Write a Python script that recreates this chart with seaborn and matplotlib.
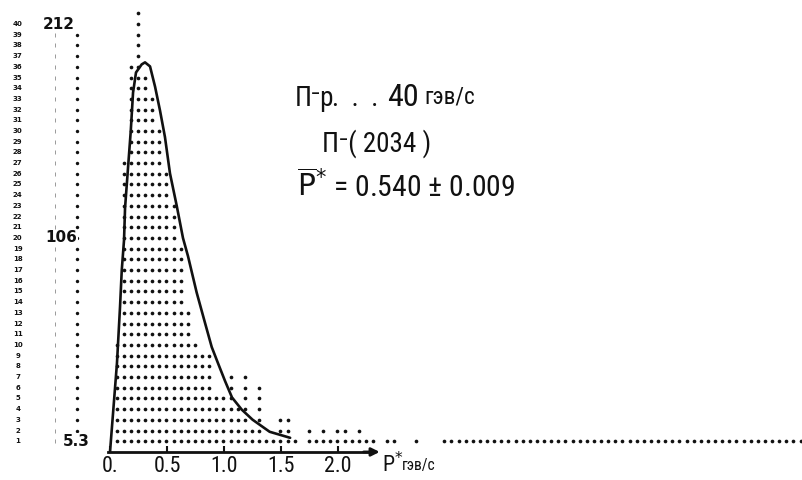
import numpy as np
import pandas as pd
import matplotlib
matplotlib.use("Agg")
import matplotlib.pyplot as plt
from matplotlib import font_manager
import seaborn as sns

# ---------------- data ----------------
ROW_UNIT = 5.3            # events represented by one printed dot
BIN_START = 0.057         # centre of the first printer column, GeV/c
BIN_WIDTH = 0.0625        # width of a printer column, GeV/c

# number of printed dots in each column (from left to right)
hist_rows = [
    10, 27, 36, 41, 35, 33, 30, 26, 23, 19,
    13, 10, 9, 9, 5, 5, 7, 4, 7, 2,
    6, 1, 1, 3, 3, 1, 0, 2, 1, 2,
    1, 2, 2, 1, 2, 1, 1, 0, 1, 1,
    0, 0, 1, 0, 0, 0, 1, 1, 1, 1,
    1, 1, 1, 1, 1, 1, 1, 1, 1, 1,
    1, 1, 1, 1, 1, 1, 1, 1, 1, 1,
    1, 1, 1, 1, 1, 1, 1, 1, 1, 1,
    1, 1, 1, 1, 1, 1, 1, 1, 1, 1,
    1, 1, 1, 1, 1, 1, 1,
]

# hand-drawn fitted curve (P*, events)
curve_p = [0.0, 0.061, 0.088, 0.103, 0.123, 0.132, 0.182, 0.202, 0.228, 0.278,
           0.307, 0.351, 0.395, 0.439, 0.482, 0.526, 0.585, 0.64, 0.684, 0.76,
           0.833, 0.892, 0.947, 1.01, 1.07, 1.155, 1.25, 1.40, 1.58]
curve_n = [0, 44, 72, 90, 105, 121, 159, 178, 188, 192,
           193, 191, 181, 169, 156, 138, 122, 106, 97, 79,
           64, 52, 44, 35, 27, 21, 16, 10, 7]

y_ticks = [5.3, 106, 212]
y_tick_labels = ["5.3", "106", "212"]
y_label_right = [-0.175, -0.29, -0.305]   # right edge of each hand-written label
x_ticks = [0.0, 0.5, 1.0, 1.5, 2.0]
x_tick_labels = ["0.", "0.5", "1.0", "1.5", "2.0"]
printer_rows = list(range(1, 41))

# ---------------- build the dot table ----------------
recs = []
for k, n in enumerate(hist_rows):
    p = BIN_START + BIN_WIDTH * k
    for j in range(1, n + 1):
        recs.append((p, j * ROW_UNIT))
dots = pd.DataFrame(recs, columns=["p", "n"])
curve = pd.DataFrame({"p": curve_p, "n": curve_n})

# ---------------- style ----------------
sns.set_style("white")
names = {f.name for f in font_manager.fontManager.ttflist}
if "Liberation Sans Narrow" in names:
    MAIN, SC = "Liberation Sans Narrow", 1.0
elif "Roboto Condensed" in names:
    MAIN, SC = "Roboto Condensed", 0.93
else:
    MAIN, SC = "Liberation Sans", 0.84
FAM = [MAIN, "DejaVu Sans"]
plt.rcParams["font.family"] = FAM
INK = "#111111"

fig = plt.figure(figsize=(8.02, 4.80), dpi=100)
ax = fig.add_axes([0, 0, 1, 1])
ax.set_xlim(-0.965, 6.07)
ax.set_ylim(-13.9, 223.9)

sns.scatterplot(data=dots, x="p", y="n", ax=ax, s=7, color=INK,
                linewidth=0, legend=False, zorder=2)
sns.lineplot(data=curve, x="p", y="n", ax=ax, color=INK, lw=1.9,
             sort=False, zorder=3)

# printer row scale on the left
row_y = [r * ROW_UNIT for r in printer_rows]
for r, yv in zip(printer_rows, row_y):
    ax.text(-0.81, yv, str(r), fontsize=5, fontweight="bold", color=INK,
            ha="center", va="center", family=["DejaVu Sans"])
ax.scatter([-0.29] * (len(row_y) - 2), row_y[1:-1], s=6, color=INK,
           linewidth=0)
ax.scatter([-0.48] * len(row_y), row_y, s=5, marker="|", color="#999999",
           linewidth=0.7)

# hand-written value labels of the vertical scale
for yv, lab, xr in zip(y_ticks, y_tick_labels, y_label_right):
    ax.text(xr, yv, lab, fontsize=11, fontweight="bold", color=INK,
            ha="right", va="center", family=["DejaVu Sans"],
            bbox=dict(facecolor="white", edgecolor="none", pad=0.5))

# axes
for side in ["top", "right", "left"]:
    ax.spines[side].set_visible(False)
ax.spines["bottom"].set_position(("data", 0))
ax.spines["bottom"].set_bounds(-0.02, 2.3)
ax.spines["bottom"].set_linewidth(2)
ax.spines["bottom"].set_color(INK)
ax.annotate("", xy=(2.39, 0), xytext=(2.2, 0),
            arrowprops=dict(arrowstyle="-|>", color=INK, lw=2,
                            mutation_scale=12))

ax.set_xticks(x_ticks)
ax.set_xticklabels(x_tick_labels, fontsize=17 * SC, color=INK)
ax.tick_params(axis="x", direction="in", length=4, width=1.5,
               color=INK, pad=3, bottom=True)
ax.set_yticks([])

ax.set_xlabel("")
ax.set_ylabel("")

# axis title
ax.text(2.39, -6.4, "P$^{*}$", fontsize=17 * SC, color=INK, ha="left",
        va="center")
ax.text(2.56, -6.9, "гэв/с", fontsize=12 * SC, color=INK, ha="left",
        va="center")

# annotation (hand lettering)
ax.text(1.62, 171.4, "П\u207bp", fontsize=21 * SC, color=INK,
        ha="left", va="baseline")
ax.text(1.95, 171.4, ".  .  .", fontsize=21 * SC, color=INK,
        ha="left", va="baseline")
ax.text(2.43, 171.4, "40", fontsize=25 * SC, color=INK, ha="left",
        va="baseline")
ax.text(2.76, 172.4, "гэв/с", fontsize=18 * SC, color=INK, ha="left",
        va="baseline")
ax.text(1.86, 148.6, "П\u207b( 2034 )", fontsize=21 * SC, color=INK,
        ha="left", va="baseline")
ax.text(1.64, 126.3, r"$\overline{\mathrm{P}}^{*}$ = 0.540 ± 0.009",
        fontsize=23 * SC, color=INK, ha="left", va="baseline")

fig.savefig("out.png", dpi=100, facecolor="white")
